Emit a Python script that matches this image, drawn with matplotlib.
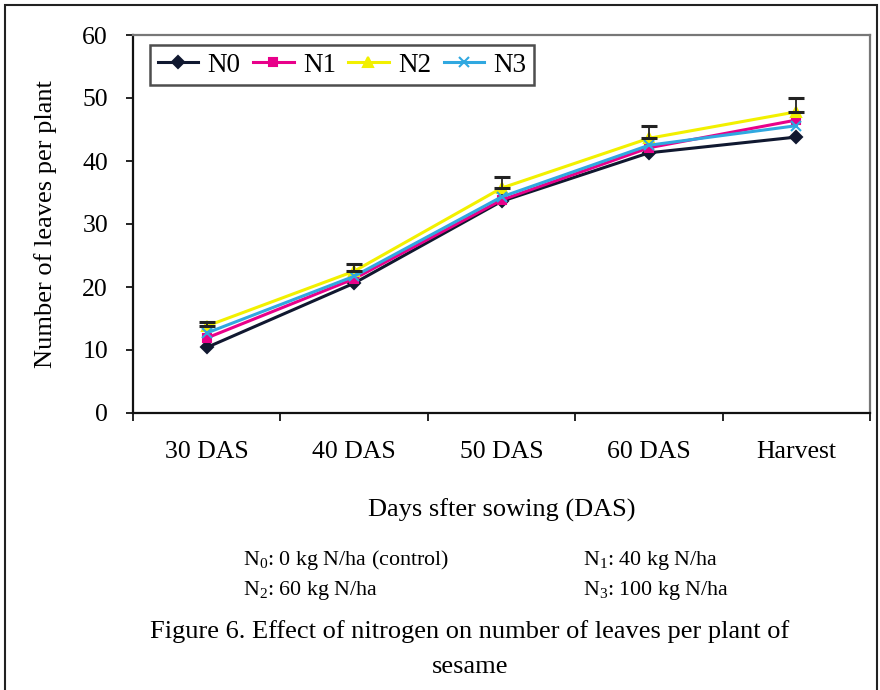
import matplotlib
matplotlib.use("Agg")
import matplotlib.pyplot as plt
from matplotlib.patches import Rectangle
import numpy as np

plt.rcParams['font.family'] = ['Liberation Serif', 'DejaVu Serif']
plt.rcParams['mathtext.fontset'] = 'custom'
plt.rcParams['mathtext.rm'] = 'Liberation Serif'

categories = ["30 DAS", "40 DAS", "50 DAS", "60 DAS", "Harvest"]
series_names = ["N0", "N1", "N2", "N3"]
n0 = [10.4, 20.6, 33.6, 41.3, 43.8]
n1 = [11.9, 21.3, 33.8, 42.1, 46.5]
n2 = [13.8, 22.5, 35.7, 43.6, 47.8]
n3 = [12.7, 21.7, 34.3, 42.5, 45.6]
n2_err = [0.7, 1.1, 1.8, 1.9, 2.2]
yticks = [0, 10, 20, 30, 40, 50, 60]

fig = plt.figure(figsize=(8.8, 6.9), dpi=100)
ax = fig.add_axes([133/880, 1-413/690, (870-133)/880, (413-35)/690])

x = np.arange(len(categories))
styles = [
    (n0, "#101830", "D", "#101830", 6),
    (n1, "#E8008A", "s", "#E8008A", 6),
    (n2, "#F2F000", "^", "#F2F000", 7),
    (n3, "#30A8E0", "x", "#30A8E0", 7),
]
handles = []
for (vals, col, mk, mc, ms), name in zip(styles, series_names):
    h, = ax.plot(x, vals, color=col, marker=mk, markersize=ms, markerfacecolor=mc,
                 markeredgecolor=mc, markeredgewidth=1.5, linewidth=2.2, label=name, zorder=3)
    handles.append(h)

ax.errorbar(x, n2, yerr=[np.zeros(len(n2)), n2_err], fmt='none', ecolor='#222222',
            elinewidth=1.3, capsize=6, capthick=2.2, zorder=4)

ax.set_xlim(-0.5, len(categories) - 0.5)
ax.set_ylim(0, 60)
ax.set_yticks(yticks)
ax.set_yticklabels([str(v) for v in yticks], fontsize=18.5)
ax.set_xticks(x)
ax.set_xticklabels(categories, fontsize=18.5)
ax.tick_params(axis='x', length=0, pad=20)
ax.set_xticks(np.arange(-0.5, len(categories), 1.0), minor=True)
ax.tick_params(axis='x', which='minor', length=6, width=1.2, direction='out')
ax.tick_params(axis='y', length=5, width=1.2, direction='out', pad=13)

for s in ['left', 'bottom']:
    ax.spines[s].set_linewidth(1.6)
    ax.spines[s].set_color('#111111')
for s in ['top', 'right']:
    ax.spines[s].set_linewidth(1.6)
    ax.spines[s].set_color('#777777')

ax.set_ylabel("Number of leaves per plant", fontsize=19, labelpad=18)
ax.set_xlabel("Days sfter sowing (DAS)", fontsize=19, labelpad=26)

leg = ax.legend(handles=handles, loc='upper left', ncol=4, fontsize=19.5,
                bbox_to_anchor=((150-133)/737, 1-(45-35)/378), borderaxespad=0,
                frameon=True, fancybox=False,
                handlelength=1.5, handletextpad=0.35, columnspacing=0.45,
                borderpad=0.28, edgecolor='#222222')
leg.get_frame().set_linewidth(1.8)

fn = 15.8
fig.text(243/880, 1-560/690, r"$\mathregular{N_0}$: 0 kg N/ha (control)", fontsize=fn, va='center')
fig.text(583/880, 1-560/690, r"$\mathregular{N_1}$: 40 kg N/ha", fontsize=fn, va='center')
fig.text(243/880, 1-590/690, r"$\mathregular{N_2}$: 60 kg N/ha", fontsize=fn, va='center')
fig.text(583/880, 1-590/690, r"$\mathregular{N_3}$: 100 kg N/ha", fontsize=fn, va='center')
fig.text(470/880, 1-632/690, "Figure 6. Effect of nitrogen on number of leaves per plant of",
         fontsize=19, ha='center', va='center')
fig.text(470/880, 1-667/690, "sesame", fontsize=19, ha='center', va='center')

fig.patches.append(Rectangle((5/880, -0.01), 872/880, 1 - 5/690 + 0.01, transform=fig.transFigure,
                             fill=False, edgecolor='#222222', linewidth=1.5))

fig.savefig("out.png", dpi=100)
